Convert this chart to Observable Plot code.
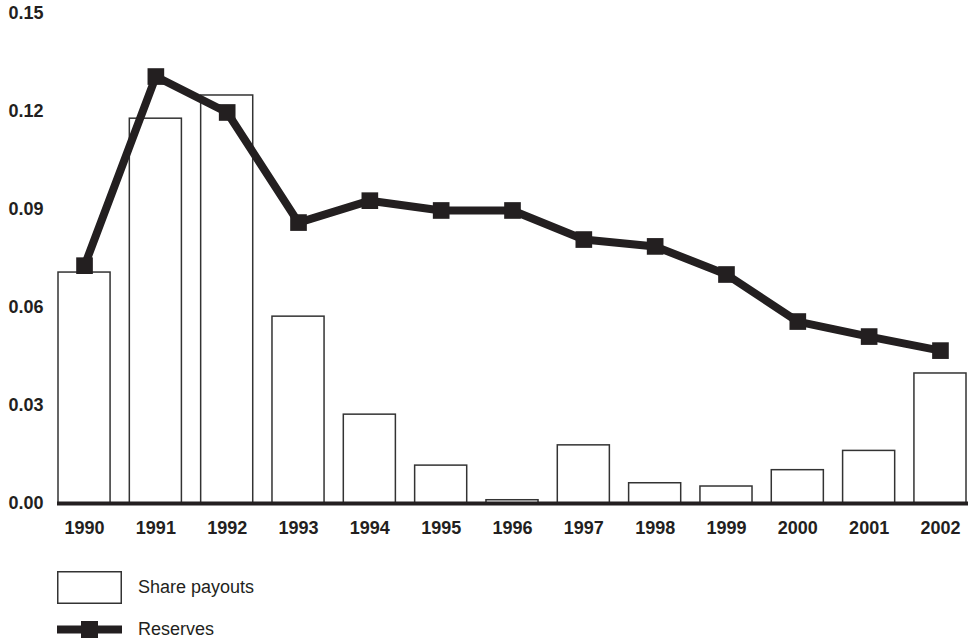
<!DOCTYPE html>
<html>
<head>
<meta charset="utf-8">
<script src="https://cdn.jsdelivr.net/npm/d3@7"></script>
<script src="https://cdn.jsdelivr.net/npm/@observablehq/plot@0.6"></script>
<style>
  html, body { margin: 0; padding: 0; background: #fff; }
  body { width: 975px; height: 639px; overflow: hidden; font-family: "Liberation Sans", Arial, sans-serif; }
  #legend { position: relative; height: 94px; }
  .item { position: absolute; left: 57px; display: flex; align-items: center; }
  .item span { font-size: 18px; color: #231f20; margin-left: 16px; }
</style>
</head>
<body>
<div id="chart"></div>
<div id="legend">
  <div class="item" style="top:26px;">
    <svg width="65" height="33"><rect x="0.75" y="0.75" width="63.5" height="31.5" fill="#fff" stroke="#333" stroke-width="1.5"/></svg>
    <span>Share payouts</span>
  </div>
  <div class="item" style="top:74px;">
    <svg width="65" height="19"><line x1="0" x2="65" y1="9.5" y2="9.5" stroke="#231f20" stroke-width="8"/><rect x="24" y="1" width="17" height="17" fill="#231f20"/></svg>
    <span>Reserves</span>
  </div>
</div>
<script>
const years = ["1990","1991","1992","1993","1994","1995","1996","1997","1998","1999","2000","2001","2002"];
const sharePayouts = [0.0707, 0.1178, 0.1249, 0.0572, 0.0272, 0.0116, 0.001, 0.0178, 0.0062, 0.0052, 0.0102, 0.0161, 0.0398];
const reserves = [0.0728, 0.1307, 0.1197, 0.0860, 0.0927, 0.0897, 0.0897, 0.0808, 0.0787, 0.0701, 0.0557, 0.0511, 0.0468];
const yTicks = [0, 0.03, 0.06, 0.09, 0.12, 0.15];

const data = years.map((y, i) => ({year: y, share: sharePayouts[i], reserves: reserves[i]}));
const ink = "#231f20";

const chart = Plot.plot({
  width: 975,
  height: 545,
  marginTop: 13,
  marginBottom: 42,
  marginLeft: 58,
  marginRight: 9,
  style: {fontFamily: "'Liberation Sans', Arial, sans-serif", fontSize: "18px", fontWeight: "bold", color: ink, background: "#fff"},
  x: {domain: years, paddingInner: 0.27, paddingOuter: 0, round: false, label: null},
  y: {domain: [0, 0.15], label: null},
  marks: [
    Plot.axisY({ticks: yTicks, tickFormat: d3.format(".2f"), tickSize: 0, tickPadding: 15, label: null, fontWeight: "bold", fontSize: 18}),
    Plot.axisX({tickSize: 0, tickPadding: 18, label: null, fontWeight: "bold", fontSize: 18}),
    Plot.barY(data, {x: "year", y: "share", fill: "#fff", stroke: "#333", strokeWidth: 1.5}),
    Plot.ruleY([0], {stroke: ink, strokeWidth: 4, insetLeft: -1, insetRight: -2}),
    Plot.line(data, {x: "year", y: "reserves", stroke: ink, strokeWidth: 8}),
    Plot.dot(data, {x: "year", y: "reserves", symbol: "square", r: 9.4, fill: ink, stroke: "none"})
  ]
});
document.getElementById("chart").appendChild(chart);
</script>
</body>
</html>
